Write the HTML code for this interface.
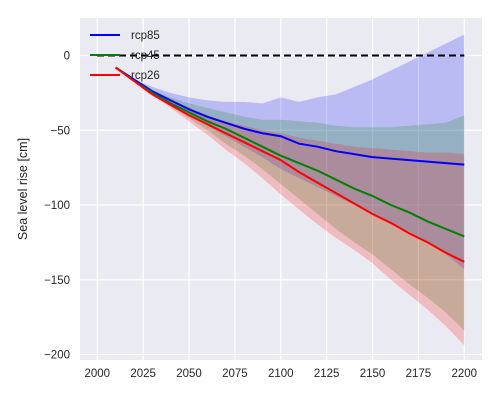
<!DOCTYPE html>
<html><head><meta charset="utf-8"><style>
body{margin:0;background:#fff;font-family:"Liberation Sans",sans-serif}
svg text{font-family:"Liberation Sans",sans-serif;fill:#262626}
</style></head><body>
<svg id="c" width="500" height="400"></svg>
<script>
const years=[2010,2020,2030,2040,2050,2060,2070,2080,2090,2100,2110,2120,2130,2140,2150,2160,2170,2180,2190,2200];
const rcp85Mean=[-8,-16,-24,-30,-36,-41,-45,-49,-52,-54,-59,-61,-64,-66,-68,-69,-70,-71,-72,-73];
const rcp85Up=[-8,-16,-21,-25,-28,-30,-31,-31,-32,-28,-31,-28,-26,-21,-16,-10,-4,2,8,14];
const rcp85Lo=[-8,-17,-25,-33,-40,-47,-54,-61,-68,-76,-82,-88,-94,-100,-106,-112,-118,-125,-133,-143];
const rcp45Mean=[-8,-17,-25,-32,-38,-44,-49,-55,-61,-67,-72,-77,-83,-89,-94,-100,-105,-111,-116,-121];
const rcp45Up=[-8,-16,-23,-28,-32,-35,-38,-41,-43,-43,-44,-45,-47,-48,-48,-48,-47,-46,-45,-40];
const rcp45Lo=[-8,-17,-26,-34,-42,-50,-59,-67,-76,-86,-96,-106,-116,-125,-133,-143,-153,-162,-172,-184];
const rcp26Mean=[-8,-17,-26,-33,-40,-46,-52,-58,-64,-70,-78,-85,-92,-99,-106,-112,-119,-125,-132,-138];
const rcp26Up=[-8,-17,-24,-30,-35,-40,-44,-47,-50,-52,-55,-57,-59,-61,-62,-63,-64,-65,-65,-66];
const rcp26Lo=[-8,-17,-26,-35,-44,-53,-63,-72,-82,-93,-103,-113,-122,-130,-139,-150,-160,-170,-181,-194];
const xTicks=[2000,2025,2050,2075,2100,2125,2150,2175,2200];
const yTicks=[0,-50,-100,-150,-200];
const X=v=>97.3+(v-2000)*1.835;
const Y=v=>55.5-v*1.495;
const svg=document.getElementById('c');const NS='http://www.w3.org/2000/svg';
function mk(t,a,p){const e=document.createElementNS(NS,t);for(const k in a)e.setAttribute(k,a[k]);(p||svg).appendChild(e);return e;}
const bg=mk('rect',{x:80,y:18,width:402,height:342,fill:'#eaeaf2'});


xTicks.forEach(t=>{const g=mk('line',{x1:X(t),x2:X(t),y1:18,y2:360,stroke:'#fff','stroke-width':1.2});


const l=mk('text',{x:X(t),y:377,'text-anchor':'middle','font-size':11.5});l.textContent=t;

});
yTicks.forEach(t=>{const g=mk('line',{x1:80,x2:482,y1:Y(t),y2:Y(t),stroke:'#fff','stroke-width':1.2});


const l=mk('text',{x:70,y:Y(t)+4,'text-anchor':'end','font-size':11.5});l.textContent=t===0?'0':'\u2212'+(-t);

});
function band(up,lo,col,name){const pts=years.map((y,i)=>X(y)+','+Y(up[i])).concat(years.map((y,i)=>X(y)+','+Y(lo[i])).reverse());
const p=mk('polygon',{points:pts.join(' '),fill:col,'fill-opacity':0.2});

}
function line(m,col,name){const p=mk('polyline',{points:years.map((y,i)=>X(y)+','+Y(m[i])).join(' '),fill:'none',stroke:col,'stroke-width':2});

}
band(rcp85Up,rcp85Lo,'#0000ff','rcp85-band');
band(rcp45Up,rcp45Lo,'#008000','rcp45-band');
band(rcp26Up,rcp26Lo,'#ff0000','rcp26-band');
const z=mk('line',{x1:97,x2:X(2200),y1:Y(0),y2:Y(0),stroke:'#000','stroke-width':2,'stroke-dasharray':'7,4'});


line(rcp85Mean,'#0000ff','rcp85-line');
line(rcp45Mean,'#008000','rcp45-line');
line(rcp26Mean,'#ff0000','rcp26-line');
[['rcp85','#0000ff'],['rcp45','#008000'],['rcp26','#ff0000']].forEach((d,i)=>{const y=35+i*20;
const l=mk('line',{x1:90,x2:120,y1:y,y2:y,stroke:d[1],'stroke-width':2});


const t=mk('text',{x:131,y:y+4,'font-size':11.5});t.textContent=d[0];

});
const yl=mk('text',{x:0,y:0,'font-size':12.5,'text-anchor':'middle',transform:'translate(27,189) rotate(-90)'});yl.textContent='Sea level rise [cm]';


</script>
</body></html>
